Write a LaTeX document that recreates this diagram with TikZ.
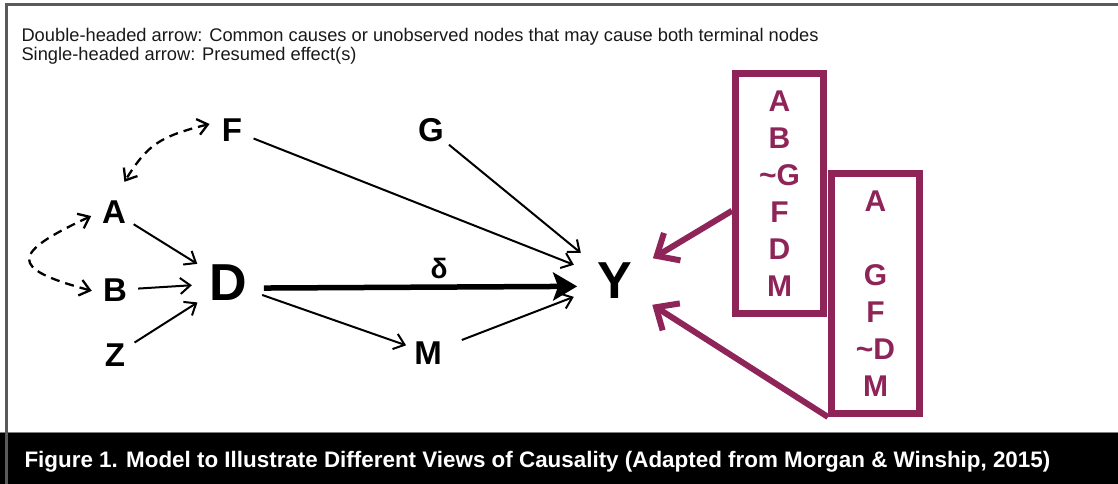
\documentclass[tikz,border=0pt]{standalone}
\usepackage{fontspec}
\setmainfont{Liberation Sans}
\usetikzlibrary{arrows.meta}
\definecolor{plum}{RGB}{142,36,88}
\definecolor{framegray}{RGB}{90,90,90}
\tikzset{
  var/.style={circle,inner sep=0pt,minimum size=46pt,font=\bfseries\fontsize{33}{33}\selectfont},
  bigvar/.style={var,minimum size=72pt,font=\bfseries\fontsize{52}{52}\selectfont},
  listbox/.style={draw=plum,line width=7pt,text=plum,minimum width=88pt,minimum height=240pt,
    inner sep=0pt,align=center,font=\bfseries\fontsize{30}{37}\selectfont},
  causes/.style={->,line width=2pt},
  common/.style={<->,line width=2.3pt,dash pattern=on 9pt off 6pt},
  selects/.style={draw=plum,line width=6pt,-{Straight Barb[length=18pt,width=32pt]}}
}
\begin{document}
\begin{tikzpicture}[x=1pt,y=1pt,>={Straight Barb[length=10pt,width=16pt]}]
\useasboundingbox (0,0) rectangle (1118,-484);

% frame and caption bar
\fill[black] (0,-432) rectangle (1118,-484);
\draw[gray,line width=1pt] (0,-432)--(1118,-432);
\draw[framegray,line width=2.5pt] (6.5,-484)--(6.5,-4.5)--(1118,-4.5);

\node[anchor=base west,align=left,text=black!90,font=\fontsize{18.3}{19}\selectfont] (legend) at (18,-61)
  {Double-headed arrow: Common causes or unobserved nodes that may cause both terminal nodes\\
   Single-headed arrow: Presumed effect(s)};

\node[anchor=base west,text=white,font=\bfseries\fontsize{22.4}{22.4}\selectfont] (caption) at (21,-467)
  {Figure 1. Model to Illustrate Different Views of Causality (Adapted from Morgan \& Winship, 2015)};

% variables
\node[var] (F) at (232,-130) {F};
\node[var] (G) at (431,-130) {G};
\node[var] (A) at (114,-212) {A};
\node[var] (B) at (115,-290) {B};
\node[var] (Z) at (115,-355) {Z};
\node[var] (M) at (428,-353) {M};
\node[bigvar] (D) at (228,-283) {D};
\node[bigvar,minimum size=88pt] (Y) at (615,-281) {Y};
\node[font=\bfseries\fontsize{28}{28}\selectfont] (delta) at (439,-268) {δ};

% conditioning sets
\node[listbox] (boxA) at (779.5,-193.5) {A\\B\\\textasciitilde G\\F\\D\\M};
\node[listbox] (boxB) at (875.5,-293.5) {A\\[37pt]G\\F\\\textasciitilde D\\M};

% common causes
\draw[common,shorten >=9pt] (F.165) to[out=194,in=58,looseness=1.2] (A.76);
\draw[common] (A.190) to[out=205,in=165,looseness=3] (B.182);

% effects
\draw[causes] (A)--(D);
\draw[causes] (B)--(D);
\draw[causes] (Z)--(D);
\draw[causes] (F)--(Y);
\draw[causes] (G)--(Y);
\draw[causes] (D)--(M);
\draw[causes,shorten <=13pt] (M)--(Y);
\draw[line width=5.5pt,-{Stealth[length=24pt,width=28pt,inset=5pt]},shorten >=-6pt] (D.-8)--(Y.187);

\draw[selects] (boxA.200)--(Y);
\draw[selects] (boxB.south west)--(Y);
\end{tikzpicture}
\end{document}
